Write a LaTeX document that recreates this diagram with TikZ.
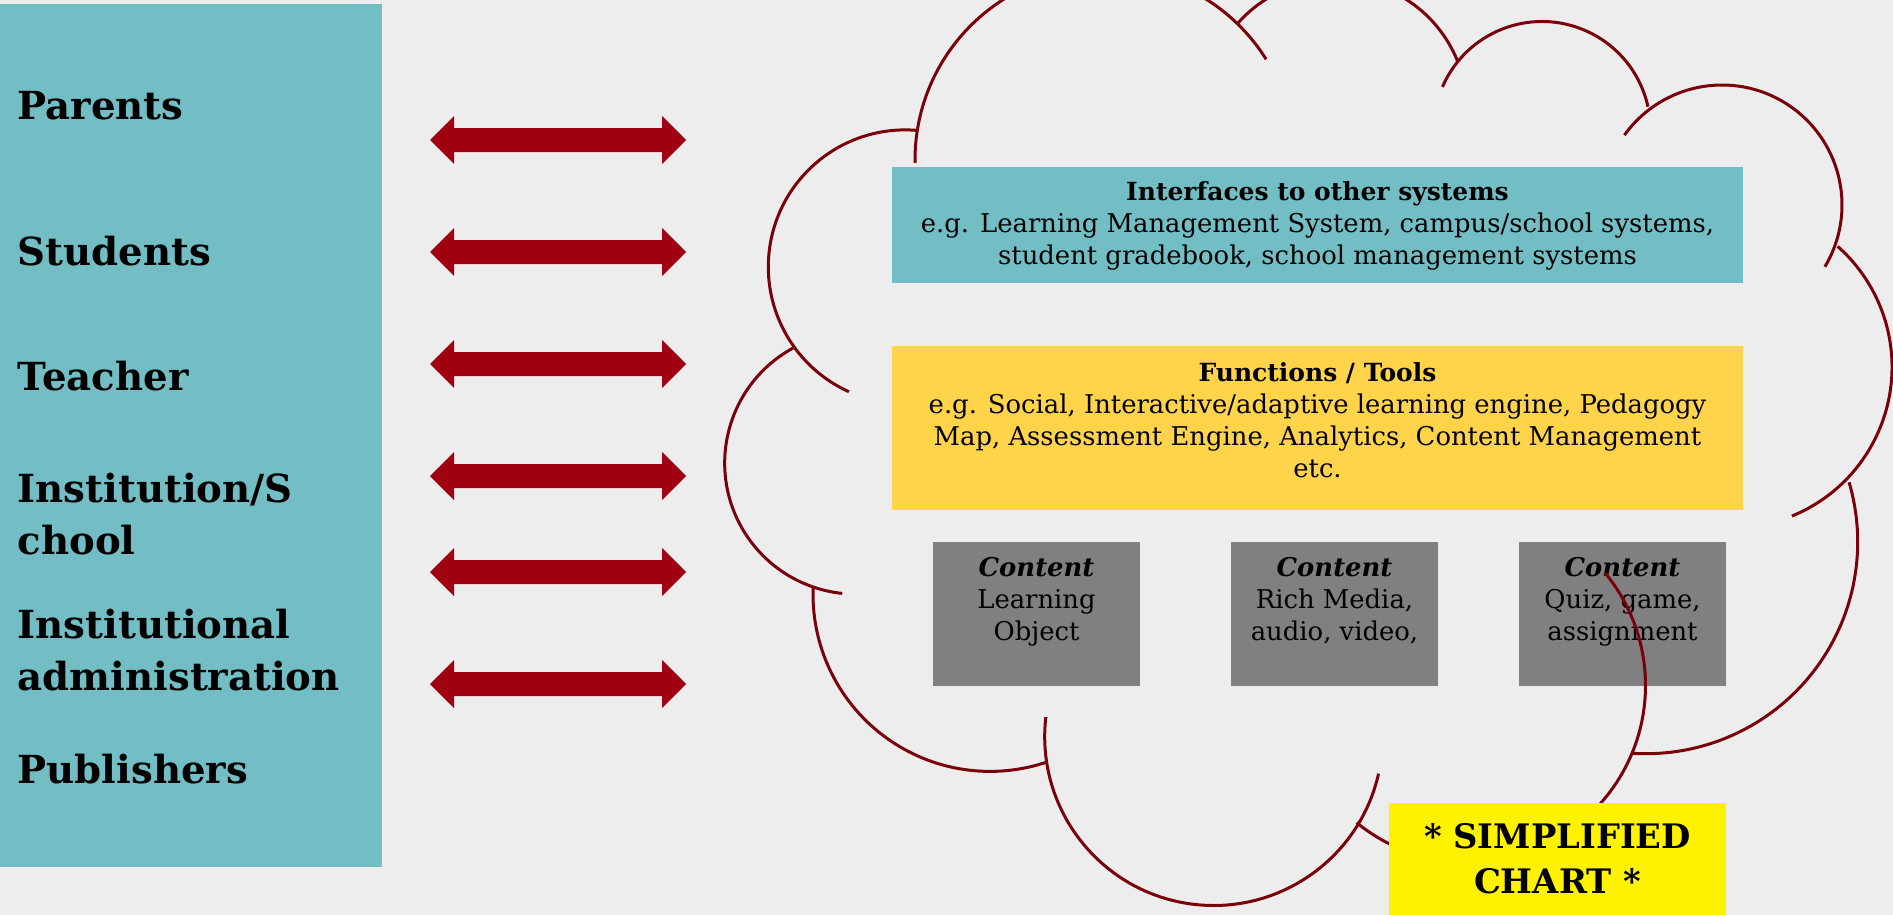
\documentclass[tikz,border=0pt]{standalone}
\usepackage{fontspec}
\setmainfont{DejaVu Serif}
\usetikzlibrary{positioning}

\definecolor{bgcol}{RGB}{237,237,237}
\definecolor{tealcol}{RGB}{115,190,196}
\definecolor{goldcol}{RGB}{255,211,74}
\definecolor{boxgray}{RGB}{128,128,128}
\definecolor{arrowred}{RGB}{160,0,15}
\definecolor{cloudred}{RGB}{122,0,10}

\tikzset{
  lbl/.style={anchor=base west,inner sep=0pt,align=left,font=\fontsize{11}{14.65}\selectfont\bfseries},
  wide/.style={inner sep=0pt,minimum width=85.1mm},
  boxtext/.style={inner sep=0pt,align=center,font=\fontsize{7.35}{9.1}\selectfont},
  cbox/.style={fill=boxgray,inner sep=0pt,minimum width=20.7mm,minimum height=14.4mm},
  cloudline/.style={draw=cloudred,line width=0.3mm}
}

\begin{document}
\begin{tikzpicture}[x=0.01cm,y=-0.01cm]
	\useasboundingbox (0,0) rectangle (1893,915);
	\fill[bgcol] (0,0) rectangle (1893,915);
	\fill[tealcol] (0,4) rectangle (382,867);
	\node[lbl] (parents) at (17,119) {Parents};
	\node[lbl] (students) at (17,265) {Students};
	\node[lbl] (teacher) at (17,390) {Teacher};
	\node[lbl] (school) at (17,554) {Institution/S\\chool};
	\node[lbl] (admin) at (17,690) {Institutional\\administration};
	\node[lbl] (publishers) at (17,783) {Publishers};
	\foreach \y in {140,252,364,476,572,684}
		\fill[arrowred] (430,\y)--(454,\y-24)--(454,\y-12)--(662,\y-12)--(662,\y-24)--(686,\y)
			--(662,\y+24)--(662,\y+12)--(454,\y+12)--(454,\y+24)--cycle;
	\node[wide,fill=tealcol,minimum height=11.6mm] (iface) at (1317.5,225) {};
	\node[boxtext] (ifacetxt) at (1317.5,226) {{\fontsize{7.1}{9.1}\selectfont\bfseries Interfaces to other systems}\\e.g. Learning Management System, campus/school systems,\\student gradebook, school management systems};
	\node[wide,fill=goldcol,minimum height=16.4mm] (func) at (1317.5,428) {};
	\node[boxtext] (functxt) at (1317.5,420) {{\fontsize{7.1}{9.1}\selectfont\bfseries Functions / Tools}\\e.g. Social, Interactive/adaptive learning engine, Pedagogy\\Map, Assessment Engine, Analytics, Content Management\\etc.};
	\node[cbox] (lo) at (1036.5,614) {};
	\node[cbox] (media) at (1334.5,614) {};
	\node[cbox] (quiz) at (1622.5,614) {};
	\node[boxtext,below=1.5mm of lo.north] (lotxt) {\textbf{\textit{Content}}\\Learning\\Object};
	\node[boxtext,below=1.5mm of media.north] (mediatxt) {\textbf{\textit{Content}}\\Rich Media,\\audio, video,};
	\node[boxtext,below=1.5mm of quiz.north] (quiztxt) {\textbf{\textit{Content}}\\Quiz, game,\\assignment};
	\begin{scope}
	\clip (0,0) rectangle (1893,915);
	\foreach \cx/\cy/\r/\a/\b in {1105/160/190/179.1/328, 1336/110/131/221/338.5,
		1542/130/108.5/203.4/347.6, 1722/205/120/215.6/391, 1731/367/161/67.8/-48.5,
		1646/542/211.7/93.8/-16.4, 1468.5/685.5/177/129.2/-39.5, 1213.7/736.5/169/186.6/12.7,
		990/594.4/177/182.1/71.3, 855.7/463.1/131/241.4/95.9, 905.3/266.9/137/275/114.3}
		\draw[cloudline] (\cx,\cy) ++(\a:\r) arc[start angle=\a,end angle=\b,radius=\r];
	\end{scope}
	\node[fill=yellow,inner sep=0pt,minimum width=33.7mm,minimum height=11.2mm,align=center,font=\fontsize{9.6}{12.8}\selectfont\bfseries] (simple) at (1557.5,859) {* SIMPLIFIED\\CHART *};
\end{tikzpicture}
\end{document}
